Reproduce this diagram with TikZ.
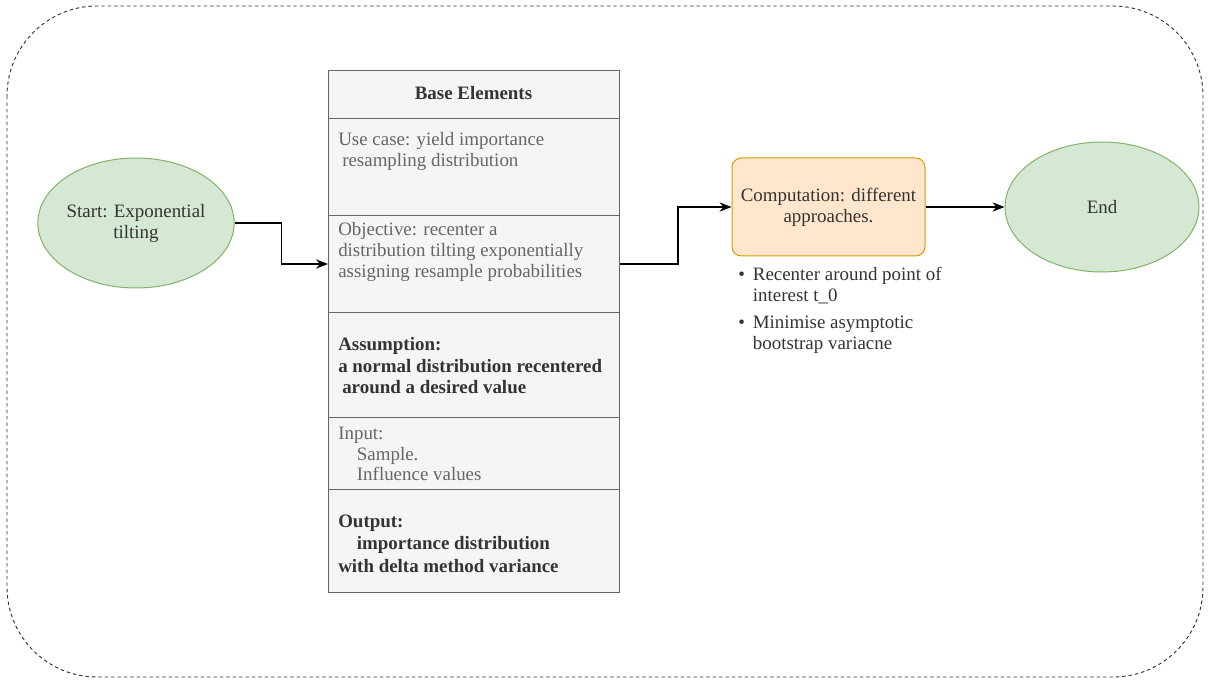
\documentclass[tikz,border=0pt]{standalone}
\usepackage{fontspec}
\setmainfont{Liberation Serif}
\usetikzlibrary{shapes.geometric,arrows.meta}

\definecolor{greenfill}{HTML}{D5E8D4}
\definecolor{greenline}{HTML}{82B366}
\definecolor{orangefill}{HTML}{FFE6CC}
\definecolor{orangeline}{HTML}{D79B00}
\definecolor{rowfill}{HTML}{F5F5F5}
\definecolor{rowline}{HTML}{666666}
\definecolor{lighttext}{HTML}{666666}
\definecolor{darktext}{HTML}{333333}

\tikzset{
  terminal/.style={ellipse, draw=greenline, fill=greenfill, line width=0.75pt, inner sep=0pt, minimum width=145.5pt, minimum height=97.5pt, align=center, text=darktext},
  rowbox/.style={rectangle, draw=rowline, fill=rowfill, line width=0.75pt, minimum width=218.25pt, anchor=north west, inner sep=0pt},
  rowtext/.style={anchor=base west, align=left, inner sep=0pt},
  flow/.style={-{Stealth[length=9pt,width=7pt]}, thick}
}

\begin{document}
\begin{tikzpicture}[x=0.75pt, y=-0.75pt, font=\fontsize{14.2}{15.75}\selectfont]
\useasboundingbox (0,0) rectangle (1208,684);
\draw[darktext, line width=0.7pt, dash pattern=on 2.6pt off 2.2pt, rounded corners=67.5pt] (7,6) rectangle (1203,677);

\node[terminal] (start) at (136,223) {Start: Exponential\\tilting};
\node[terminal] (stop) at (1102,207) {End};

\node[rowbox, minimum height=36pt] (header) at (328,70) {};
\node[rowbox, minimum height=72.75pt] (usecase) at (328,118) {};
\node[rowbox, minimum height=72.75pt] (objective) at (328,215) {};
\node[rowbox, minimum height=78.75pt] (assumption) at (328,312) {};
\node[rowbox, minimum height=54pt] (input) at (328,417) {};
\node[rowbox, minimum height=77.25pt] (output) at (328,489) {};

\node[anchor=base, text=darktext, font=\fontsize{14.2}{15.75}\selectfont\bfseries] (headertext) at (473.5,100) {Base Elements};
\node[rowtext, text=lighttext] (usecasetext) at (338,167) {Use case: yield importance\\\hspace*{3pt}resampling distribution};
\node[rowtext, text=lighttext] (objectivetext) at (338,278) {Objective: recenter a\\distribution tilting exponentially\\assigning resample probabilities};
\node[rowtext, text=darktext, font=\fontsize{14.2}{16.3}\selectfont\bfseries] (assumptiontext) at (338,394) {Assumption:\\a normal distribution recentered\\\hspace*{3pt}around a desired value};
\node[rowtext, text=lighttext] (inputtext) at (338,481) {Input:\\\hspace*{14pt}Sample.\\\hspace*{14pt}Influence values};
\node[rowtext, text=darktext, font=\fontsize{14.2}{16.6}\selectfont\bfseries] (outputtext) at (338,572) {Output:\\\hspace*{14pt}importance distribution\\with delta method variance};

\node[rectangle, rounded corners=7pt, draw=orangeline, fill=orangefill, line width=0.75pt, minimum width=144.75pt, minimum height=73.5pt, align=center, text=darktext] (comp) at (828.5,207) {Computation: different\\approaches.};

\node[anchor=north west, inner sep=0pt, text=darktext] (notes) at (738,266) {%
  \begin{tabular}{@{}l@{\hspace{6pt}}l@{}}
  \textbullet & Recenter around point of\\
              & interest t\_0\\[4pt]
  \textbullet & Minimise asymptotic\\
              & bootstrap variacne
  \end{tabular}};

\draw[flow] (start.east) -- ++(47,0) |- (objective.west);
\draw[flow] (objective.east) -- ++(58,0) |- (comp.west);
\draw[flow] (comp.east) -- (stop.west);
\end{tikzpicture}
\end{document}
